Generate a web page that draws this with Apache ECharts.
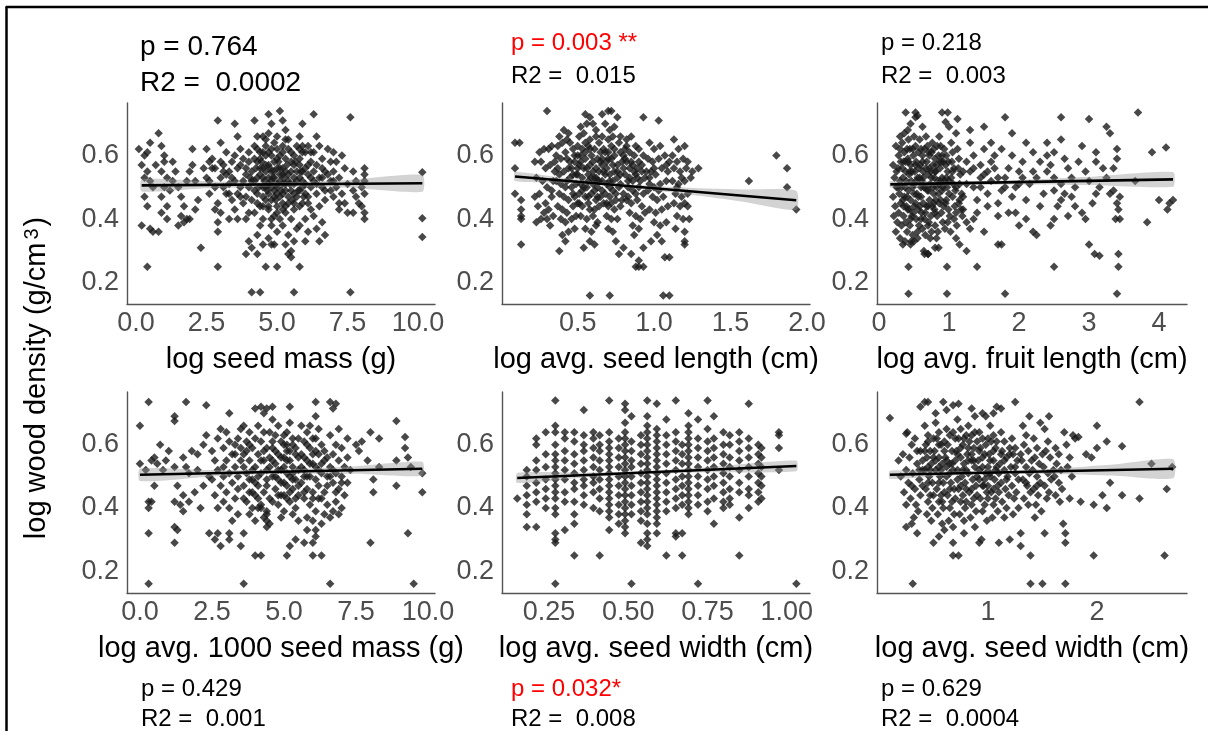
<!DOCTYPE html>
<html>
<head>
<meta charset="utf-8">
<script src="https://cdn.jsdelivr.net/npm/echarts@6/dist/echarts.min.js"></script>
<style>html,body{margin:0;padding:0;background:#fff;}#c{width:1208px;height:731px;}</style>
</head>
<body>
<div id="c"></div>
<script>
// ---------------- DATA ----------------
const xTitles = ['log seed mass (g)', 'log avg. seed length (cm)', 'log avg. fruit length (cm)',
  'log avg. 1000 seed mass (g)', 'log avg. seed width (cm)', 'log avg. seed width (cm)'];
const yTitle = 'log wood density (g/cm';
const pTexts = ['p = 0.764', 'p = 0.003 **', 'p = 0.218', 'p = 0.429', 'p = 0.032*', 'p = 0.629'];
const r2Texts = ['R2 =  0.0002', 'R2 =  0.015', 'R2 =  0.003', 'R2 =  0.001', 'R2 =  0.008', 'R2 =  0.0004'];
const pSignificant = [false, true, false, false, true, false];
const yTicks = [0.2, 0.4, 0.6];
const xTicks = [[0, 2.5, 5, 7.5, 10], [0.5, 1.0, 1.5, 2.0], [0, 1, 2, 3, 4], [0, 2.5, 5, 7.5, 10], [0.25, 0.5, 0.75, 1.0], [1, 2]];
const xTickDigits = [1, 1, 0, 1, 2, 0];

// Panel 1: log seed mass vs log wood density
const seedMass = [
[0.1,0.62],[0.3,0.60],[0.4,0.61],[0.5,0.64],[0.2,0.57],[0.4,0.55],[0.3,0.53],[0.5,0.52],[0.6,0.50],[0.3,0.47],[0.4,0.44],[0.2,0.38],[0.5,0.37],[0.6,0.36],[0.4,0.25],
[0.8,0.67],[0.9,0.63],[1.0,0.60],[1.0,0.58],[0.9,0.55],[1.1,0.53],[1.0,0.50],[0.9,0.47],[1.1,0.44],[0.9,0.42],[1.1,0.40],[0.8,0.36],[1.3,0.58],[1.4,0.55],[1.3,0.52],
[1.5,0.50],[1.6,0.47],[1.7,0.44],[1.5,0.38],[1.8,0.40],[1.9,0.40],[2.0,0.62],[2.0,0.57],[1.9,0.55],[2.1,0.52],[2.2,0.46],[2.1,0.43],[2.3,0.31],[1.6,0.41],[1.7,0.39],
[0.7,0.57],[1.2,0.49],[1.8,0.52],
[2.5,0.62],[2.6,0.58],[2.7,0.56],[2.5,0.53],[2.8,0.50],[2.6,0.48],[2.9,0.45],[3.0,0.42],[2.8,0.43],[2.9,0.39],[2.9,0.36],[2.9,0.25],[2.9,0.71],[3.0,0.64],[3.2,0.61],
[3.1,0.57],[3.3,0.55],[3.0,0.53],[3.3,0.51],[3.2,0.48],[3.4,0.46],[3.5,0.43],[3.3,0.40],[3.6,0.40],[3.5,0.70],[3.6,0.66],[3.7,0.62],[3.8,0.59],[3.6,0.56],[3.9,0.54],
[3.7,0.50],[3.9,0.47],[3.8,0.45],[4.0,0.42],[3.9,0.40],[4.0,0.33],[4.1,0.31],[3.9,0.29],[4.1,0.17],
[4.2,0.71],[4.3,0.66],[4.2,0.63],[4.4,0.61],[4.3,0.58],[4.5,0.56],[4.4,0.54],[4.2,0.52],[4.5,0.50],[4.3,0.48],[4.6,0.46],[4.4,0.44],[4.2,0.42],[4.5,0.40],[4.4,0.38],
[4.3,0.35],[4.5,0.32],[4.3,0.29],[4.4,0.17],[4.6,0.25],[4.7,0.73],[4.8,0.70],[4.7,0.67],[4.9,0.64],[4.8,0.62],[4.6,0.60],[5.0,0.59],[4.7,0.57],[4.9,0.55],[5.1,0.54],
[4.8,0.52],[5.0,0.51],[4.6,0.50],[4.9,0.49],[5.1,0.47],[4.8,0.46],[5.0,0.44],[4.7,0.43],[4.9,0.41],[5.1,0.40],[4.8,0.38],[5.0,0.36],[4.7,0.34],[4.9,0.32],[5.0,0.25],
[4.8,0.32],[5.1,0.74],[5.2,0.71],[5.3,0.68],[5.4,0.65],[5.2,0.63],[5.5,0.61],[5.3,0.59],[5.6,0.57],[5.2,0.56],[5.4,0.54],[5.6,0.53],[5.3,0.51],[5.5,0.49],[5.2,0.48],
[5.7,0.47],[5.4,0.45],[5.6,0.43],[5.3,0.42],[5.5,0.40],[5.2,0.38],[5.7,0.37],[5.4,0.35],[5.6,0.33],[5.3,0.32],[5.5,0.30],[5.4,0.29],[5.5,0.28],[5.6,0.17],[5.8,0.25],
[5.8,0.66],[5.9,0.63],[6.0,0.61],[5.8,0.59],[6.1,0.57],[5.9,0.55],[6.2,0.53],[6.0,0.51],[5.8,0.49],[6.1,0.47],[5.9,0.45],[6.2,0.43],[6.0,0.40],[5.8,0.38],[6.1,0.36],
[6.0,0.33],[5.9,0.70],
[6.3,0.73],[6.4,0.66],[6.5,0.63],[6.3,0.61],[6.6,0.59],[6.4,0.57],[6.7,0.55],[6.5,0.53],[6.3,0.52],[6.6,0.50],[6.4,0.48],[6.7,0.46],[6.5,0.44],[6.3,0.41],[6.6,0.39],
[6.4,0.37],[6.7,0.35],[6.5,0.33],[6.8,0.62],[6.9,0.58],[7.0,0.55],[6.9,0.52],[7.1,0.50],[7.0,0.47],[7.2,0.45],[7.3,0.60],[7.4,0.56],[7.2,0.53],[7.5,0.51],[7.3,0.48],
[7.4,0.45],[7.2,0.43],[7.5,0.42],[7.6,0.72],[7.6,0.17],[7.7,0.55],[7.8,0.52],[7.7,0.49],[7.8,0.47],[7.9,0.45],[7.7,0.42],[8.1,0.56],[8.1,0.54],[8.1,0.52],[8.0,0.50],
[8.1,0.48],[8.0,0.44],[8.1,0.42],[8.1,0.40],
[10.15,0.547],[10.15,0.403],[10.15,0.344],
[4.6,0.55],[4.7,0.53],[4.9,0.58],[5.0,0.56],[5.2,0.54],[5.1,0.52],[4.8,0.50],[5.3,0.49],[5.0,0.48],[4.7,0.48],[5.2,0.45],[4.5,0.53],[4.1,0.55],[4.0,0.50],[4.1,0.46],
[5.6,0.51],[5.7,0.55],[5.8,0.53],[6.0,0.56],[5.5,0.58],[5.1,0.60],[4.4,0.59],[3.5,0.52],[3.4,0.58],[3.1,0.50],[3.5,0.60],[4.8,0.40],[5.3,0.44],[5.9,0.50],[6.2,0.58],
[6.1,0.63],[5.7,0.63],[5.0,0.66],[4.5,0.66],[4.0,0.61],[4.6,0.63]
];
const seedMassDense = [
[3.7,0.57],[3.8,0.52],[3.6,0.48],[4.0,0.58],[4.1,0.52],[4.2,0.49],[4.3,0.53],[4.4,0.56],[4.5,0.47],[4.6,0.57],[4.7,0.51],[4.8,0.55],[4.9,0.53],[5.0,0.50],[5.1,0.56],
[5.2,0.51],[5.3,0.55],[5.4,0.52],[5.5,0.55],[5.6,0.48],[5.7,0.52],[5.8,0.57],[5.9,0.52],[6.0,0.48],[6.1,0.54],[6.2,0.50],[6.3,0.55],[4.5,0.61],[4.8,0.60],[5.2,0.61],
[5.6,0.60],[5.9,0.61],[4.3,0.45],[4.7,0.44],[5.0,0.42],[5.4,0.47],[5.8,0.44],[6.1,0.45],[4.2,0.59],[3.9,0.56],[3.4,0.53],[3.2,0.54],[3.0,0.58],[2.7,0.59],[2.4,0.56],
[6.6,0.56],[6.8,0.54],[7.0,0.52],[7.1,0.58],[6.7,0.49],
[4.05,0.53],[4.25,0.56],[4.35,0.50],[4.45,0.58],[4.55,0.52],[4.65,0.49],[4.75,0.56],[4.85,0.53],[4.95,0.46],[5.05,0.58],[5.15,0.49],[5.25,0.53],[5.35,0.57],[5.45,0.51],
[5.55,0.46],[5.65,0.58],[5.75,0.49],[5.85,0.55],[5.95,0.47],[4.3,0.62],[4.7,0.61],[5.0,0.62],[5.4,0.62],[5.8,0.62],[4.6,0.65],[5.3,0.65],[4.9,0.47],[5.2,0.43],[4.5,0.44],
[5.6,0.45],[3.3,0.48],[3.1,0.55],[2.8,0.56],[2.6,0.52],[3.7,0.47],[6.2,0.61],[6.4,0.51],[6.6,0.53],[6.9,0.49],[7.0,0.61]
];

// Panel 2: log avg. seed length
const seedLength = [
[0.09,0.64],[0.12,0.64],[0.09,0.56],[0.09,0.48],[0.13,0.46],[0.13,0.43],[0.13,0.41],[0.13,0.40],[0.13,0.32],
[0.25,0.61],[0.28,0.62],[0.31,0.62],[0.33,0.63],[0.22,0.58],[0.26,0.58],[0.29,0.56],[0.32,0.57],[0.23,0.53],[0.27,0.52],[0.30,0.50],[0.34,0.52],[0.22,0.47],[0.25,0.48],
[0.29,0.45],[0.33,0.47],[0.24,0.44],[0.28,0.42],[0.31,0.43],[0.26,0.40],[0.30,0.40],[0.34,0.41],[0.23,0.39],[0.32,0.38],[0.30,0.74],
[0.38,0.66],[0.41,0.68],[0.44,0.67],[0.37,0.63],[0.40,0.64],[0.43,0.65],[0.47,0.62],[0.36,0.60],[0.39,0.59],[0.42,0.61],[0.45,0.58],[0.48,0.60],[0.37,0.56],[0.41,0.55],
[0.44,0.56],[0.47,0.54],[0.36,0.52],[0.39,0.51],[0.43,0.52],[0.46,0.50],[0.49,0.51],[0.38,0.48],[0.41,0.47],[0.44,0.46],[0.48,0.47],[0.37,0.44],[0.40,0.43],[0.43,0.42],
[0.47,0.44],[0.39,0.40],[0.42,0.39],[0.46,0.40],[0.49,0.41],[0.40,0.35],[0.44,0.36],[0.38,0.30],[0.42,0.33],[0.48,0.37],
[0.55,0.73],[0.58,0.72],[0.52,0.69],[0.56,0.70],[0.60,0.70],[0.51,0.66],[0.54,0.67],[0.58,0.65],[0.62,0.66],[0.50,0.63],[0.53,0.62],[0.57,0.63],[0.61,0.62],[0.64,0.64],
[0.52,0.60],[0.55,0.59],[0.59,0.60],[0.63,0.59],[0.51,0.57],[0.54,0.56],[0.58,0.57],[0.62,0.56],[0.65,0.58],[0.50,0.54],[0.53,0.53],[0.57,0.54],[0.61,0.53],[0.64,0.55],
[0.52,0.51],[0.56,0.50],[0.60,0.51],[0.63,0.50],[0.51,0.48],[0.55,0.47],[0.59,0.48],[0.62,0.46],[0.53,0.44],[0.57,0.45],[0.61,0.43],[0.64,0.44],[0.52,0.41],[0.56,0.40],
[0.60,0.41],[0.63,0.39],[0.55,0.37],[0.59,0.36],[0.62,0.38],[0.58,0.33],[0.61,0.32],[0.54,0.31],[0.58,0.16],
[0.66,0.73],[0.70,0.74],[0.72,0.74],[0.76,0.72],[0.68,0.70],[0.71,0.68],[0.74,0.69],[0.66,0.66],[0.70,0.65],[0.73,0.66],[0.77,0.64],[0.67,0.62],[0.70,0.61],[0.74,0.62],
[0.78,0.61],[0.66,0.59],[0.69,0.58],[0.72,0.59],[0.76,0.57],[0.79,0.58],[0.67,0.55],[0.71,0.54],[0.74,0.55],[0.78,0.54],[0.66,0.52],[0.69,0.51],[0.73,0.52],[0.77,0.50],
[0.68,0.48],[0.71,0.47],[0.75,0.48],[0.79,0.46],[0.67,0.45],[0.70,0.44],[0.74,0.43],[0.78,0.44],[0.69,0.41],[0.72,0.40],[0.76,0.40],[0.70,0.37],[0.73,0.36],[0.77,0.29],
[0.80,0.31],[0.71,0.16],[0.75,0.33],
[0.82,0.65],[0.85,0.66],[0.88,0.63],[0.93,0.72],[0.81,0.62],[0.84,0.61],[0.87,0.60],[0.90,0.62],[0.93,0.60],[0.82,0.58],[0.86,0.57],[0.89,0.56],[0.92,0.57],[0.81,0.54],
[0.84,0.53],[0.88,0.54],[0.91,0.52],[0.94,0.53],[0.83,0.50],[0.86,0.49],[0.90,0.50],[0.93,0.48],[0.82,0.46],[0.85,0.45],[0.89,0.46],[0.92,0.44],[0.84,0.42],[0.88,0.41],
[0.91,0.40],[0.94,0.42],[0.86,0.38],[0.90,0.37],[0.85,0.29],[0.88,0.25],[0.90,0.25],[0.93,0.25],[0.90,0.27],[0.93,0.31],[0.87,0.35],
[1.03,0.71],[0.97,0.64],[1.00,0.62],[1.04,0.63],[0.96,0.59],[0.99,0.58],[1.03,0.59],[1.07,0.60],[0.98,0.55],[1.01,0.54],[1.05,0.56],[1.09,0.55],[0.97,0.51],[1.00,0.50],
[1.04,0.51],[1.08,0.52],[0.99,0.47],[1.02,0.46],[1.06,0.47],[0.97,0.43],[1.01,0.42],[1.05,0.43],[1.09,0.44],[1.00,0.39],[1.04,0.38],[1.08,0.39],[1.02,0.35],[0.98,0.33],
[1.07,0.28],[1.10,0.28],[1.06,0.16],[1.10,0.16],[1.05,0.33],
[1.13,0.65],[1.16,0.62],[1.20,0.63],[1.12,0.60],[1.15,0.58],[1.19,0.59],[1.22,0.58],[1.13,0.56],[1.17,0.55],[1.21,0.56],[1.25,0.55],[1.12,0.52],[1.16,0.51],[1.20,0.52],
[1.24,0.53],[1.14,0.48],[1.18,0.47],[1.22,0.48],[1.13,0.45],[1.17,0.44],[1.20,0.45],[1.15,0.41],[1.19,0.40],[1.23,0.40],[1.20,0.36],[1.20,0.33],[1.20,0.32],[1.14,0.37],
[1.29,0.56],[1.22,0.44],
[1.62,0.52],[1.80,0.60],[1.87,0.56],[1.87,0.50],[1.93,0.43]
];
const seedLengthDense = [
[0.45,0.53],[0.50,0.56],[0.53,0.49],[0.57,0.52],[0.60,0.55],[0.63,0.52],[0.66,0.57],[0.68,0.54],[0.71,0.50],[0.73,0.57],[0.76,0.53],[0.80,0.56],[0.83,0.52],[0.87,0.55],
[0.90,0.58],[0.95,0.55],[0.48,0.58],[0.55,0.61],[0.60,0.58],[0.68,0.61],[0.72,0.63],[0.80,0.60],[0.85,0.58],[0.50,0.45],[0.58,0.43],[0.65,0.47],[0.72,0.45],[0.80,0.48],
[0.88,0.48],[0.96,0.49],[0.42,0.50],[0.38,0.54],[0.35,0.58],[1.00,0.56],[1.10,0.58],[1.15,0.50],[0.55,0.64],[0.62,0.68],[0.78,0.66],[0.45,0.64],
[0.43,0.59],[0.46,0.56],[0.49,0.54],[0.52,0.58],[0.54,0.50],[0.56,0.56],[0.59,0.53],[0.61,0.49],[0.64,0.52],[0.66,0.49],[0.69,0.56],[0.71,0.52],[0.73,0.49],[0.76,0.55],
[0.78,0.51],[0.81,0.59],[0.84,0.56],[0.86,0.52],[0.89,0.53],[0.92,0.55],[0.47,0.48],[0.51,0.45],[0.57,0.47],[0.63,0.47],[0.69,0.45],[0.75,0.46],[0.83,0.47],[0.50,0.60],
[0.58,0.62],[0.65,0.61],[0.74,0.60],[0.82,0.63],[0.35,0.55],[0.33,0.49],[0.97,0.53],[1.03,0.49],[1.08,0.57],[1.18,0.53],[0.62,0.53],[0.70,0.59]
];

// Panel 3: log avg. fruit length
const fruitLength = [
[0.38,0.735],[0.52,0.735],[0.55,0.725],[0.90,0.735],[0.98,0.735],[0.95,0.705],[1.12,0.715],[1.80,0.72],[1.50,0.69],[2.60,0.72],[3.00,0.715],[3.25,0.69],[3.30,0.67],
[3.70,0.735],[1.90,0.67],[2.10,0.64],[2.40,0.64],[2.60,0.65],[3.40,0.62],[3.90,0.61],[4.10,0.625],[3.10,0.61],
[0.42,0.165],[0.97,0.165],[1.80,0.165],[3.40,0.165],[0.42,0.25],[0.97,0.25],[1.40,0.25],[2.50,0.25],[3.42,0.25],[3.42,0.29],[3.08,0.29],[3.15,0.285],[3.00,0.32],
[1.25,0.30],[0.65,0.29],[0.70,0.29],[0.85,0.31],[0.80,0.31],[1.10,0.34],[1.70,0.32],[1.75,0.32],[2.20,0.36],[2.25,0.35],[1.50,0.36],[0.50,0.33],[0.45,0.32],[0.55,0.34],
[1.15,0.32],
[4.00,0.46],[4.15,0.45],[4.12,0.43],[4.20,0.46],[3.83,0.39],[3.66,0.52],[3.44,0.47],[3.40,0.45],[3.44,0.40],[3.38,0.40],[3.42,0.43],[3.35,0.49],[3.30,0.48],[3.35,0.56],
[3.40,0.59],[3.20,0.56],[3.25,0.53],[3.15,0.50],[3.10,0.48],[3.00,0.52],[2.95,0.55],[3.05,0.45],[2.95,0.40],[2.90,0.42],[2.80,0.44],[2.80,0.50],[2.85,0.58],[2.70,0.56],
[2.75,0.53],[2.65,0.48],[2.60,0.46],[2.55,0.44],[2.50,0.40],[2.60,0.51],[2.50,0.53],[2.45,0.57],[2.40,0.60],[2.40,0.55],[2.35,0.48],[2.30,0.44],[2.30,0.58],[2.20,0.61],
[2.20,0.55],[2.15,0.51],[2.10,0.46],[2.10,0.40],[2.05,0.58],[2.00,0.55],[1.95,0.50],[1.90,0.47],[1.85,0.42],[1.90,0.60],[1.85,0.56],[1.80,0.53],[1.75,0.49],[1.70,0.45],
[1.70,0.41],[1.65,0.60],[1.65,0.56],[1.60,0.52],[1.55,0.48],[1.55,0.44],[1.50,0.62],[1.45,0.57],[1.50,0.54],[1.45,0.50],[1.40,0.46],[1.40,0.42],[1.35,0.60],[1.30,0.55],
[1.30,0.64],[1.25,0.51],[1.20,0.47],[1.20,0.43],[1.25,0.39],[1.30,0.37],[1.35,0.40],[2.00,0.38],[1.95,0.42],[2.45,0.38],[2.70,0.41],[1.75,0.62],[1.60,0.64],[2.50,0.61],
[2.65,0.59],[2.90,0.63],[3.10,0.58],[1.00,0.69],[1.10,0.67],[1.30,0.68],
[0.20,0.57],[0.22,0.53],[0.25,0.50],[0.20,0.47],[0.23,0.44],[0.21,0.41],[0.26,0.39],[0.24,0.36],[0.28,0.60],[0.27,0.56],[0.30,0.52],[0.29,0.48],[0.31,0.45],[0.28,0.42],
[0.32,0.38],[0.30,0.34],[0.34,0.32],[0.33,0.64],[0.36,0.61],[0.35,0.58],[0.38,0.55],[0.34,0.53],[0.37,0.50],[0.36,0.47],[0.39,0.44],[0.35,0.41],[0.38,0.39],[0.40,0.36],
[0.37,0.33],[0.41,0.68],[0.42,0.65],[0.44,0.62],[0.41,0.59],[0.45,0.57],[0.43,0.54],[0.46,0.52],[0.42,0.49],[0.45,0.46],[0.43,0.43],[0.47,0.41],[0.44,0.38],[0.48,0.35],
[0.46,0.33],[0.50,0.66],[0.52,0.63],[0.49,0.60],[0.53,0.58],[0.51,0.55],[0.55,0.53],[0.50,0.51],[0.54,0.48],[0.52,0.45],[0.56,0.43],[0.53,0.40],[0.57,0.38],[0.55,0.36],
[0.58,0.65],[0.60,0.62],[0.62,0.60],[0.59,0.57],[0.63,0.55],[0.61,0.52],[0.64,0.50],[0.60,0.47],[0.63,0.45],[0.61,0.42],[0.65,0.40],[0.62,0.37],[0.66,0.35],[0.64,0.30],
[0.67,0.66],[0.69,0.63],[0.71,0.61],[0.68,0.58],[0.72,0.56],[0.70,0.54],[0.73,0.51],[0.69,0.49],[0.72,0.46],[0.70,0.44],[0.74,0.41],[0.71,0.39],[0.75,0.36],[0.73,0.34],
[0.70,0.29],[0.76,0.64],[0.78,0.62],[0.80,0.59],[0.77,0.57],[0.81,0.55],[0.79,0.53],[0.82,0.50],[0.78,0.48],[0.81,0.46],[0.79,0.43],[0.83,0.41],[0.80,0.38],[0.84,0.36],
[0.82,0.34],[0.86,0.66],[0.88,0.63],[0.85,0.60],[0.89,0.58],[0.87,0.56],[0.90,0.53],[0.86,0.51],[0.90,0.49],[0.88,0.46],[0.92,0.44],[0.89,0.42],[0.91,0.39],[0.94,0.37],
[0.93,0.62],[0.96,0.60],[0.95,0.57],[0.98,0.55],[0.94,0.52],[0.97,0.50],[1.00,0.48],[0.96,0.46],[0.99,0.43],[1.01,0.41],[0.98,0.39],[1.02,0.36],[1.03,0.64],[1.05,0.61],
[1.04,0.58],[1.07,0.56],[1.03,0.53],[1.06,0.51],[1.09,0.49],[1.05,0.47],[1.08,0.44],[1.10,0.42],[1.07,0.40],[1.11,0.38],[1.12,0.62],[1.14,0.59],[1.13,0.56],[1.16,0.54],
[1.15,0.51],[1.18,0.48],[1.14,0.45],[1.17,0.43],[1.19,0.41],[0.52,0.72],[0.62,0.69],[0.45,0.70],[0.36,0.67],[0.24,0.63],[0.30,0.66]
];
const fruitLengthDense = [
[0.25,0.55],[0.32,0.50],[0.38,0.58],[0.40,0.47],[0.44,0.55],[0.48,0.50],[0.52,0.57],[0.56,0.47],[0.58,0.53],[0.62,0.58],[0.66,0.50],[0.68,0.44],[0.72,0.60],[0.75,0.53],
[0.78,0.45],[0.82,0.57],[0.85,0.48],[0.88,0.52],[0.92,0.58],[0.95,0.45],[0.30,0.62],[0.40,0.62],[0.50,0.44],[0.60,0.40],[0.70,0.38],[0.80,0.42],[0.90,0.60],[1.00,0.52],
[0.35,0.44],[0.45,0.40],[1.20,0.55],[1.25,0.58],[1.35,0.50],[1.45,0.53],[1.60,0.58],[1.80,0.50],[2.00,0.51],[2.25,0.53],[2.50,0.49],[2.75,0.47],
[0.27,0.50],[0.33,0.56],[0.39,0.52],[0.42,0.58],[0.47,0.55],[0.50,0.48],[0.53,0.52],[0.57,0.56],[0.60,0.50],[0.63,0.53],[0.67,0.56],[0.71,0.49],[0.74,0.55],[0.77,0.50],
[0.80,0.55],[0.84,0.52],[0.87,0.58],[0.91,0.50],[0.96,0.53],[0.99,0.58],[0.34,0.46],[0.41,0.43],[0.49,0.42],[0.58,0.44],[0.66,0.42],[0.76,0.44],[0.86,0.45],[0.31,0.58],
[0.48,0.62],[0.56,0.61],[0.65,0.62],[0.75,0.61],[0.83,0.63],[1.05,0.55],[1.10,0.50],[1.15,0.46],[1.35,0.56],[1.55,0.55],[1.70,0.53],[2.05,0.53]
];

// Panel 4: log avg. 1000 seed mass
const thousandSeedMass = [
[0.3,0.735],[1.6,0.735],[2.3,0.725],[3.1,0.70],[4.0,0.715],[4.2,0.72],[4.4,0.715],[4.6,0.72],[4.3,0.70],[5.2,0.72],[6.1,0.735],[6.6,0.735],[6.8,0.73],[6.7,0.715],
[1.2,0.69],[1.2,0.675],[8.9,0.675],[9.2,0.625],[9.2,0.59],[8.0,0.64],[8.3,0.62],[0.0,0.66],[0.0,0.54],[0.2,0.52],[0.4,0.55],[0.7,0.60],[0.6,0.54],[0.9,0.55],[1.2,0.53],
[1.5,0.56],[1.6,0.53],[0.5,0.47],[0.3,0.42],[0.4,0.42],[0.3,0.40],[0.3,0.32],[1.2,0.34],[1.3,0.33],[1.2,0.29],[1.2,0.42],[1.4,0.41],[1.5,0.39],[1.7,0.42],[1.5,0.44],
[2.2,0.60],[2.0,0.57],[2.4,0.32],[2.6,0.30],[2.7,0.32],[2.8,0.28],[3.1,0.32],[3.1,0.30],[3.6,0.32],[3.5,0.28],[4.0,0.25],[4.2,0.25],[5.1,0.25],[6.0,0.25],[6.3,0.25],
[6.0,0.29],[5.7,0.29],[5.4,0.30],[5.2,0.28],[5.8,0.33],[6.1,0.31],[6.1,0.33],[8.0,0.29],[9.3,0.32],[0.3,0.16],[3.6,0.16],[6.6,0.16],[9.5,0.16],[9.8,0.51],[9.8,0.45],
[9.4,0.53],[8.9,0.55],[8.9,0.47],[9.3,0.56],[8.1,0.45],[8.1,0.49],[8.3,0.53],[7.9,0.55],[7.6,0.58],[7.5,0.60],[7.7,0.61],
[2.5,0.58],[2.6,0.55],[2.7,0.52],[2.5,0.49],[2.8,0.47],[2.6,0.44],[2.9,0.42],[2.7,0.40],[3.0,0.64],[3.1,0.61],[2.9,0.59],[3.2,0.57],[3.0,0.55],[3.3,0.53],[3.1,0.51],
[2.9,0.50],[3.2,0.48],[3.4,0.46],[3.0,0.45],[3.3,0.43],[3.1,0.40],[3.4,0.38],[3.2,0.36],[2.8,0.65],[2.7,0.62],[3.5,0.65],[3.4,0.62],[3.5,0.59],[3.3,0.57],
[3.6,0.66],[3.8,0.64],[3.7,0.61],[3.9,0.59],[3.6,0.57],[3.8,0.55],[4.0,0.53],[3.7,0.51],[3.9,0.49],[3.6,0.47],[3.8,0.45],[4.0,0.44],[3.7,0.42],[3.9,0.40],[4.1,0.40],
[4.2,0.40],[3.8,0.38],[4.0,0.36],[4.1,0.66],[4.3,0.64],[4.2,0.61],[4.4,0.59],[4.1,0.57],[4.3,0.55],[4.5,0.53],[4.2,0.51],[4.4,0.49],[4.1,0.47],[4.3,0.45],[4.5,0.43],
[4.2,0.41],[4.4,0.39],[4.3,0.37],[4.5,0.35],[4.4,0.36],[4.4,0.34],[4.4,0.38],
[4.6,0.68],[4.8,0.66],[4.7,0.63],[4.9,0.61],[4.6,0.59],[4.8,0.57],[5.0,0.56],[4.7,0.54],[4.9,0.52],[5.1,0.51],[4.6,0.50],[4.8,0.49],[5.0,0.48],[4.7,0.46],[4.9,0.44],
[5.1,0.43],[4.8,0.41],[5.0,0.39],[4.9,0.37],[5.2,0.67],[5.1,0.64],[5.3,0.62],[5.0,0.60],[5.2,0.58],[5.4,0.57],[5.1,0.55],[5.3,0.53],[5.5,0.52],[5.2,0.50],[5.4,0.49],
[5.1,0.47],[5.3,0.46],[5.5,0.44],[5.2,0.42],[5.4,0.40],[5.3,0.38],[5.5,0.36],[5.0,0.44],[5.1,0.58],
[5.6,0.66],[5.8,0.64],[5.7,0.61],[5.9,0.59],[5.6,0.57],[5.8,0.55],[6.0,0.54],[5.7,0.52],[5.9,0.50],[6.1,0.49],[5.6,0.48],[5.8,0.46],[6.0,0.45],[5.7,0.43],[5.9,0.41],
[6.1,0.39],[5.8,0.37],[6.0,0.36],[6.2,0.65],[6.1,0.62],[6.3,0.60],[6.2,0.57],[6.4,0.55],[6.1,0.53],[6.3,0.51],[6.5,0.50],[6.2,0.47],[6.4,0.45],[6.3,0.43],[6.5,0.41],
[6.4,0.38],[6.6,0.37],[6.3,0.35],[6.1,0.69],
[6.6,0.63],[6.8,0.60],[6.7,0.57],[6.9,0.55],[6.6,0.53],[6.8,0.51],[7.0,0.50],[6.7,0.48],[6.9,0.46],[7.1,0.44],[6.8,0.42],[7.0,0.40],[6.7,0.39],[6.9,0.38],[7.0,0.59],
[7.2,0.56],[7.1,0.53],[7.3,0.52],[7.2,0.48],[6.9,0.65],[7.2,0.62],
[2.3,0.63],[2.4,0.50],[2.2,0.47],[2.0,0.52],[1.8,0.58],[1.7,0.51],[1.9,0.45],[2.1,0.40],[1.3,0.47],[1.0,0.58],[0.8,0.52],[0.5,0.56]
];
const thousandSeedMassDense = [
[3.4,0.50],[3.6,0.53],[3.8,0.60],[4.0,0.48],[4.2,0.55],[4.4,0.52],[4.6,0.55],[4.7,0.58],[4.8,0.52],[4.9,0.48],[5.0,0.53],[5.2,0.55],[5.3,0.49],[5.4,0.59],[5.5,0.47],
[5.6,0.53],[5.7,0.56],[5.8,0.50],[6.0,0.57],[6.2,0.52],[6.4,0.58],[6.6,0.50],[6.8,0.45],[4.5,0.64],[5.0,0.63],[5.5,0.62],[6.0,0.62],[4.1,0.43],[4.6,0.42],[5.2,0.45],
[5.7,0.45],[6.2,0.43],[3.3,0.60],[3.9,0.45],[7.0,0.48],[4.0,0.62],[2.9,0.53],[3.6,0.43],[6.5,0.47],[5.9,0.66],
[3.5,0.55],[3.7,0.58],[3.9,0.52],[4.1,0.50],[4.3,0.58],[4.5,0.56],[4.7,0.50],[4.9,0.56],[5.1,0.60],[5.3,0.51],[5.5,0.56],[5.7,0.50],[5.9,0.54],[6.1,0.58],[6.3,0.54],
[6.5,0.56],[6.7,0.52],[4.4,0.47],[4.8,0.44],[5.4,0.43],[6.0,0.43],[3.8,0.49],[4.6,0.61],[5.3,0.60],[5.8,0.60]
];

// Panel 5: log avg. seed width (cm) -- columns of [x, [y values]]
const seedWidthCols = [
[0.15,[0.43]],
[0.18,[0.52,0.50,0.47,0.44,0.41,0.38,0.34]],
[0.21,[0.62,0.60,0.55,0.52,0.48,0.45,0.42,0.34]],
[0.24,[0.64,0.57,0.53,0.49,0.46,0.43,0.40]],
[0.27,[0.74,0.66,0.64,0.60,0.57,0.55,0.53,0.51,0.49,0.47,0.45,0.43,0.40,0.38,0.32,0.30,0.29,0.16]],
[0.30,[0.64,0.62,0.58,0.55,0.52,0.49,0.45,0.42,0.33]],
[0.33,[0.64,0.61,0.57,0.54,0.51,0.48,0.46,0.42,0.38,0.35,0.25]],
[0.36,[0.71,0.63,0.60,0.58,0.55,0.52,0.49,0.47,0.44,0.41]],
[0.39,[0.64,0.62,0.59,0.56,0.53,0.50,0.48,0.45,0.40]],
[0.41,[0.63,0.60,0.58,0.55,0.52,0.49,0.46,0.43,0.39,0.25]],
[0.44,[0.74,0.64,0.61,0.59,0.57,0.55,0.53,0.51,0.49,0.47,0.45,0.43,0.41,0.39,0.37,0.33]],
[0.47,[0.62,0.59,0.56,0.53,0.50,0.47,0.44,0.41,0.38,0.35]],
[0.49,[0.73,0.71,0.67,0.64,0.62,0.60,0.58,0.56,0.54,0.52,0.50,0.48,0.46,0.44,0.42,0.40,0.38,0.36,0.34,0.32]],
[0.51,[0.69,0.61,0.58,0.55,0.53,0.50,0.47,0.44,0.41,0.38,0.16]],
[0.54,[0.63,0.60,0.57,0.54,0.51,0.48,0.45,0.42,0.39,0.36,0.29]],
[0.56,[0.74,0.69,0.66,0.64,0.62,0.60,0.58,0.56,0.54,0.52,0.50,0.48,0.46,0.44,0.42,0.40,0.38,0.35,0.32,0.30,0.28]],
[0.59,[0.73,0.65,0.63,0.61,0.59,0.57,0.55,0.53,0.51,0.49,0.47,0.45,0.43,0.41,0.39,0.37,0.35,0.32]],
[0.62,[0.68,0.63,0.60,0.57,0.54,0.51,0.48,0.45,0.42,0.39,0.25]],
[0.65,[0.74,0.64,0.61,0.58,0.55,0.52,0.49,0.46,0.43,0.40,0.32,0.31]],
[0.67,[0.60,0.57,0.54,0.50,0.47,0.44,0.41,0.32,0.25]],
[0.69,[0.70,0.66,0.64,0.62,0.60,0.58,0.56,0.54,0.52,0.50,0.48,0.46,0.44,0.42,0.40,0.38]],
[0.72,[0.68,0.62,0.59,0.56,0.53,0.50,0.47,0.44,0.41,0.16]],
[0.75,[0.74,0.65,0.61,0.58,0.55,0.52,0.49,0.46,0.42,0.39]],
[0.77,[0.69,0.62,0.59,0.56,0.53,0.50,0.47,0.43,0.35]],
[0.80,[0.64,0.60,0.57,0.54,0.51,0.48,0.45,0.42,0.40]],
[0.82,[0.63,0.60,0.56,0.53,0.50,0.46,0.43,0.41]],
[0.85,[0.64,0.61,0.58,0.55,0.52,0.48,0.45,0.37,0.25]],
[0.88,[0.73,0.62,0.59,0.56,0.53,0.50,0.46,0.44,0.40]],
[0.91,[0.60,0.57,0.54,0.51,0.48,0.45,0.42]],
[0.92,[0.59,0.56,0.53,0.50,0.47,0.43]],
[0.975,[0.64,0.63,0.59,0.52]],
[1.03,[0.16]]
];

// Panel 6: log avg. seed width (cm), second dataset
const seedWidth2 = [
[0.10,0.685],[0.31,0.16],[1.39,0.16],[1.50,0.16],[1.71,0.16],[0.68,0.25],[0.73,0.25],[1.39,0.25],[1.97,0.25],[2.62,0.25],[0.68,0.29],[0.92,0.29],[1.10,0.29],[1.30,0.28],
[1.71,0.29],[1.71,0.32],[1.52,0.32],[1.69,0.35],[1.43,0.37],[1.30,0.32],[1.20,0.30],[0.25,0.34],[0.30,0.35],[0.35,0.32],[0.55,0.31],[0.60,0.33],[0.78,0.32],[0.50,0.29],
[2.64,0.46],[2.39,0.43],[2.23,0.44],[2.09,0.40],[2.05,0.44],[1.97,0.41],[1.85,0.42],[1.75,0.43],[2.12,0.48],[1.95,0.56],[1.90,0.57],[2.00,0.59],[2.09,0.61],[2.23,0.595],
[2.00,0.66],[1.80,0.62],[1.83,0.625],[2.39,0.735],[2.69,0.53],[2.50,0.54],[0.45,0.735],[0.42,0.735],[0.59,0.735],[0.73,0.73],[0.68,0.725],[0.38,0.72],[1.25,0.735],
[0.85,0.715],[0.95,0.70],[1.05,0.70],[1.12,0.715],[0.25,0.635],
[0.18,0.55],[0.22,0.57],[0.25,0.52],[0.20,0.50],[0.27,0.48],[0.23,0.45],[0.29,0.43],[0.25,0.41],[0.30,0.60],[0.33,0.62],[0.28,0.56],[0.35,0.54],[0.31,0.51],[0.37,0.49],
[0.33,0.46],[0.38,0.44],[0.34,0.41],[0.36,0.39],[0.32,0.37],[0.26,0.64],[0.38,0.58],[0.40,0.52],
[0.42,0.66],[0.45,0.63],[0.43,0.60],[0.47,0.58],[0.44,0.56],[0.48,0.54],[0.42,0.52],[0.46,0.50],[0.49,0.48],[0.43,0.46],[0.47,0.44],[0.45,0.42],[0.49,0.40],[0.44,0.38],
[0.48,0.36],[0.52,0.67],[0.55,0.64],[0.53,0.62],[0.57,0.60],[0.51,0.58],[0.55,0.56],[0.58,0.54],[0.52,0.52],[0.56,0.50],[0.59,0.48],[0.53,0.46],[0.57,0.44],[0.55,0.42],
[0.59,0.40],[0.54,0.38],[0.58,0.35],[0.62,0.65],[0.65,0.63],[0.63,0.60],[0.67,0.58],[0.61,0.56],[0.65,0.54],[0.68,0.52],[0.62,0.50],[0.66,0.48],[0.69,0.46],[0.63,0.44],
[0.67,0.42],[0.65,0.40],[0.69,0.38],[0.64,0.36],[0.68,0.34],
[0.72,0.68],[0.75,0.65],[0.73,0.62],[0.77,0.60],[0.71,0.58],[0.75,0.56],[0.78,0.54],[0.72,0.52],[0.76,0.50],[0.79,0.48],[0.73,0.46],[0.77,0.44],[0.75,0.42],[0.79,0.40],
[0.74,0.38],[0.78,0.36],[0.82,0.66],[0.85,0.63],[0.83,0.61],[0.87,0.59],[0.81,0.57],[0.85,0.55],[0.88,0.53],[0.82,0.51],[0.86,0.49],[0.89,0.47],[0.83,0.45],[0.87,0.43],
[0.85,0.41],[0.89,0.39],[0.84,0.37],[0.88,0.34],[0.92,0.64],[0.95,0.62],[0.93,0.59],[0.97,0.57],[0.91,0.55],[0.95,0.53],[0.98,0.51],[0.92,0.49],[0.96,0.47],[0.99,0.45],
[0.93,0.43],[0.97,0.41],[0.95,0.39],[0.99,0.36],[0.94,0.30],
[1.02,0.66],[1.05,0.63],[1.03,0.61],[1.07,0.59],[1.01,0.57],[1.05,0.55],[1.08,0.53],[1.02,0.51],[1.06,0.49],[1.09,0.47],[1.03,0.45],[1.07,0.43],[1.05,0.41],[1.09,0.39],
[1.04,0.37],[1.12,0.64],[1.15,0.61],[1.13,0.58],[1.17,0.56],[1.11,0.54],[1.15,0.52],[1.18,0.50],[1.12,0.48],[1.16,0.46],[1.19,0.44],[1.13,0.42],[1.17,0.40],[1.15,0.37],
[1.22,0.62],[1.25,0.59],[1.23,0.57],[1.27,0.55],[1.21,0.53],[1.25,0.51],[1.28,0.49],[1.22,0.47],[1.26,0.45],[1.24,0.43],[1.28,0.40],[1.23,0.38],
[1.32,0.66],[1.35,0.63],[1.33,0.60],[1.37,0.58],[1.31,0.55],[1.35,0.53],[1.38,0.51],[1.32,0.49],[1.36,0.47],[1.39,0.45],[1.33,0.43],[1.37,0.41],[1.42,0.62],[1.45,0.59],
[1.43,0.56],[1.47,0.54],[1.41,0.52],[1.45,0.50],[1.48,0.48],[1.42,0.46],[1.46,0.44],[1.44,0.41],[1.49,0.39],[1.52,0.65],[1.55,0.61],[1.53,0.58],[1.57,0.56],[1.51,0.53],
[1.55,0.51],[1.58,0.49],[1.52,0.47],[1.56,0.45],[1.54,0.43],[1.62,0.59],[1.65,0.57],[1.63,0.54],[1.67,0.52],[1.61,0.50],[1.65,0.48],[1.68,0.46],[1.62,0.44],[1.66,0.42],
[1.72,0.60],[1.75,0.56],[1.73,0.53],[1.77,0.50],[1.78,0.63],[1.70,0.64],[1.48,0.67],[1.56,0.69],[1.38,0.69],[1.08,0.72],[0.98,0.69],[0.88,0.69],[0.62,0.71],[0.52,0.70]
];
const seedWidth2Dense = [
[0.35,0.58],[0.40,0.55],[0.45,0.53],[0.50,0.56],[0.55,0.53],[0.60,0.58],[0.65,0.51],[0.70,0.55],[0.75,0.59],[0.80,0.52],[0.85,0.57],[0.90,0.50],[0.95,0.56],[1.00,0.53],
[1.05,0.58],[1.10,0.51],[1.15,0.55],[1.20,0.57],[1.25,0.53],[0.40,0.47],[0.50,0.44],[0.60,0.45],[0.70,0.43],[0.80,0.46],[0.90,0.44],[1.00,0.47],[1.10,0.45],[0.45,0.61],
[0.55,0.60],[0.70,0.62],[0.80,0.63],[0.90,0.61],[1.00,0.62],[0.62,0.53],[0.72,0.49],[0.82,0.55],[0.92,0.52],[1.02,0.50],[1.40,0.55],[1.50,0.57],
[0.37,0.52],[0.42,0.58],[0.47,0.52],[0.52,0.55],[0.57,0.52],[0.62,0.55],[0.67,0.54],[0.72,0.57],[0.77,0.52],[0.82,0.59],[0.87,0.55],[0.92,0.58],[0.97,0.49],[1.02,0.55],
[1.07,0.52],[1.12,0.57],[1.17,0.49],[0.45,0.48],[0.55,0.48],[0.65,0.46],[0.75,0.47],[0.85,0.46],[0.95,0.47],[1.05,0.46],[0.50,0.62],[0.60,0.61],[0.68,0.64],[0.78,0.62],
[0.88,0.64],[0.98,0.60],[1.08,0.61],[1.30,0.57],[1.35,0.48],[1.45,0.47],[1.60,0.52],[0.30,0.47],[0.58,0.42],[0.80,0.42],[1.00,0.43],[1.20,0.59]
];

// Fitted regression lines (endpoints) and confidence bands
const fitLines = [
  [[0.2,0.506],[10.15,0.5125]],
  [[0.09,0.534],[1.93,0.459]],
  [[0.16,0.509],[4.2,0.525]],
  [[0.0,0.505],[9.8,0.524]],
  [[0.15,0.495],[1.03,0.533]],
  [[0.10,0.505],[2.70,0.524]]
];
const ciX  = [[0.2,2.5,5,7.5,10.15],[0.09,0.4,0.7,1.0,1.3,1.6,1.93],[0.16,1,2,3,4.2],[0,2.5,5,7.5,9.8],[0.15,0.35,0.55,0.75,1.03],[0.1,0.6,1.1,1.7,2.2,2.7]];
const ciLo = [[0.487,0.497,0.502,0.499,0.486],[0.520,0.514,0.504,0.490,0.473,0.453,0.429],[0.499,0.506,0.509,0.507,0.502],[0.485,0.500,0.508,0.508,0.502],[0.479,0.4956,0.5073,0.5129,0.516],[0.492,0.5017,0.5073,0.5067,0.5014,0.494]];
const ciHi = [[0.525,0.519,0.516,0.523,0.539],[0.548,0.530,0.514,0.504,0.497,0.493,0.489],[0.519,0.518,0.523,0.533,0.548],[0.525,0.520,0.522,0.532,0.546],[0.511,0.5116,0.5173,0.5289,0.550],[0.518,0.5157,0.5173,0.5267,0.5394,0.554]];

// ---------------- LAYOUT / STYLE ----------------
const FONT = 'Liberation Sans, Arial, Helvetica, sans-serif';
const grids = [
  {left:127, top:103, width:308, height:201},
  {left:502, top:103, width:308, height:201},
  {left:877, top:103, width:310, height:201},
  {left:127, top:392, width:308, height:201},
  {left:502, top:392, width:308, height:201},
  {left:877, top:392, width:310, height:201}
];
const xRanges = [[-0.32,10.6],[0.005,2.02],[-0.03,4.4],[-0.45,10.24],[0.102,1.073],[-0.018,2.826]];
const yRanges = [[0.133,0.765],[0.133,0.765],[0.133,0.765],[0.131,0.767],[0.131,0.767],[0.131,0.767]];

const seedWidthPts = [];
seedWidthCols.forEach(c => c[1].forEach(y => seedWidthPts.push([c[0], y])));
const scatterData = [seedMass.concat(seedMassDense), seedLength.concat(seedLengthDense), fruitLength.concat(fruitLengthDense),
  thousandSeedMass.concat(thousandSeedMassDense), seedWidthPts, seedWidth2.concat(seedWidth2Dense)];

const axisLineStyle = {show:true, onZero:false, lineStyle:{color:'#555', width:1.4}};
const xAxes = [], yAxes = [], series = [];
for (let i = 0; i < 6; i++) {
  const d = xTickDigits[i];
  xAxes.push({
    type:'value', gridIndex:i, min:xRanges[i][0], max:xRanges[i][1],
    axisLine:axisLineStyle, axisTick:{show:false}, splitLine:{show:false},
    axisLabel:{customValues:xTicks[i], formatter:v => Number(v).toFixed(d), color:'#4d4d4d', fontSize:27, fontFamily:FONT, margin:6}
  });
  yAxes.push({
    type:'value', gridIndex:i, min:yRanges[i][0], max:yRanges[i][1],
    axisLine:axisLineStyle, axisTick:{show:false}, splitLine:{show:false},
    axisLabel:{customValues:yTicks, formatter:v => Number(v).toFixed(1), color:'#4d4d4d', fontSize:27, fontFamily:FONT, margin:8}
  });
  series.push({
    type:'scatter', xAxisIndex:i, yAxisIndex:i, data:scatterData[i],
    symbol:'diamond', symbolSize:8.5, itemStyle:{color:'#1a1a1a', opacity:0.8}, z:2, silent:true
  });
  const xs = ciX[i], lo = ciLo[i], hi = ciHi[i];
  series.push({
    type:'custom', xAxisIndex:i, yAxisIndex:i, silent:true, z:3,
    data:xs.map((x,k) => [x, lo[k], hi[k]]),
    encode:{x:0, y:[1,2]},
    renderItem:(params, api) => {
      if (params.dataIndex !== 0) return null;
      const pts = [];
      for (let k = 0; k < xs.length; k++) pts.push(api.coord([xs[k], hi[k]]));
      for (let k = xs.length - 1; k >= 0; k--) pts.push(api.coord([xs[k], lo[k]]));
      return {type:'polygon', shape:{points:pts, smooth:0.2}, style:{fill:'rgba(150,150,150,0.42)'}};
    }
  });
  series.push({
    type:'line', xAxisIndex:i, yAxisIndex:i, data:fitLines[i], symbol:'none', silent:true,
    lineStyle:{color:'#000', width:2.6}, z:4
  });
}

// ---------------- GRAPHIC TEXT ----------------
const graphic = [];
graphic.push({type:'line', shape:{x1:6.5, y1:7, x2:6.5, y2:731}, style:{stroke:'#000', lineWidth:2.5}});
graphic.push({type:'line', shape:{x1:5.5, y1:7, x2:1208, y2:7}, style:{stroke:'#000', lineWidth:2.5}});
grids.forEach((g, i) => {
  const cx = g.left + g.width / 2;
  const ty = g.top + g.height + 56;
  graphic.push({type:'text', x:cx, y:ty, style:{text:xTitles[i], fill:'#000', font:'29px ' + FONT, textAlign:'center', textVerticalAlign:'middle'}});
});
const annPos = [
  {x:140, py:47, ry:83, size:28},
  {x:511, py:43, ry:76, size:24},
  {x:881, py:43, ry:76, size:24},
  {x:141, py:689, ry:719, size:24},
  {x:511, py:689, ry:719, size:24},
  {x:881, py:689, ry:719, size:24}
];
annPos.forEach((a, i) => {
  graphic.push({type:'text', x:a.x, y:a.py, style:{text:pTexts[i], fill:pSignificant[i] ? '#ff0000' : '#000', font:a.size + 'px ' + FONT, textAlign:'left', textVerticalAlign:'middle'}});
  graphic.push({type:'text', x:a.x, y:a.ry, style:{text:r2Texts[i], fill:'#000', font:a.size + 'px ' + FONT, textAlign:'left', textVerticalAlign:'middle'}});
});
graphic.push({
  type:'text', x:37, y:378, rotation:Math.PI/2,
  style:{text:yTitle + '{sup|3}' + ')', fill:'#000', font:'29px ' + FONT, textAlign:'center', textVerticalAlign:'middle',
    rich:{sup:{fontSize:20, fontFamily:FONT, fill:'#000', verticalAlign:'top', padding:[0,2,0,3]}}}
});

const chart = echarts.init(document.getElementById('c'), null, {renderer:'canvas'});
chart.setOption({
  backgroundColor:'#fff',
  animation:false,
  grid:grids,
  xAxis:xAxes,
  yAxis:yAxes,
  series:series,
  graphic:graphic
});
</script>
</body>
</html>
